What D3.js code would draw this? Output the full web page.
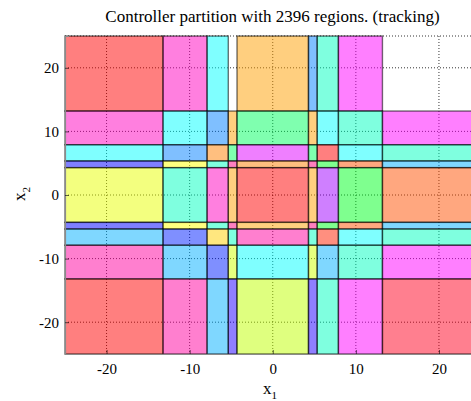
<!DOCTYPE html>
<html>
<head>
<meta charset="utf-8">
<script src="https://cdn.jsdelivr.net/npm/d3@7/dist/d3.min.js"></script>
<style>
  html, body { margin: 0; padding: 0; background: #fff; }
  svg { display: block; }
  text { font-family: "Liberation Serif", "Times New Roman", "DejaVu Serif", serif; fill: #000; }
</style>
</head>
<body>
<svg id="chart" width="471" height="401"></svg>
<script>
// Partition boundaries of the state space (same on both axes)
const xBreaks = [-25, -13.2, -7.9, -5.35, -4.3, 4.3, 5.35, 7.9, 13.2, 25];
const yBreaks = [-25, -13.2, -7.9, -5.35, -4.3, 4.3, 5.35, 7.9, 13.2, 25];

// Region colour keys, one row per x2 band from the top band down,
// one entry per x1 band from left to right (null = no region)
const regionRows = [
  ["red",    "pink",  "cyan",   null,     "lorange", "ltblue",  "aqua",     "magenta", null],
  ["pink",   "cyan",  "ltblue", "lorange","ltgreen", "lorange", "cyan",     "aqua",    "magenta"],
  ["cyan",   "ltblue","orange", "ltgreen","violet",  "ltgreen", "red",      "cyan",    "aqua"],
  ["blue",   "yellow","aqua",   "rose",   "orange",  "rose",    "green",    "salmon",  "sky"],
  ["lime",   "aqua",  "pink",   "lorange","red",     "lorange", "purple",   "green",   "salmon"],
  ["blue",   "yellow","aqua",   "rose",   "lorange", "rose",    "green",    "salmon",  "sky"],
  ["sky",    "blue2", "gold",   "aqua",   "pinkb",   "aqua",    "redorange","cyan",    "aqua"],
  ["pinkb",  "sky",   "blue2",  "chart",  "cyan",    "chart",   "sky",      "aqua",    "magenta"],
  ["red",    "pinkb", "sky",    "indigo", "yg",      "indigo",  "aqua",     "magenta", "crimson"]
];

const xTicks = [-20, -10, 0, 10, 20];
const yTicks = [-20, -10, 0, 10, 20];
const titleText = "Controller partition with 2396 regions. (tracking)";

// Saturated region colours, painted half transparent
const palette = {
  red: "#ff0000", pink: "#ff00c0", cyan: "#00ffff", lorange: "#ffa000",
  ltblue: "#0080ff", ltgreen: "#00ff60", magenta: "#ff00ff", aqua: "#00ffc0",
  orange: "#ff8000", violet: "#e000ff", blue: "#0000ff", yellow: "#ffff00",
  rose: "#ff0080", green: "#00ff20", salmon: "#ff5000", sky: "#00b0ff",
  lime: "#e8ff00", purple: "#a000ff", blue2: "#0020ff", gold: "#ffd000",
  pinkb: "#ff00a0", redorange: "#ff2000", chart: "#d0ff00", yg: "#c0ff00",
  indigo: "#2000ff", crimson: "#ff0020"
};

const svg = d3.select("#chart");
const x = d3.scaleLinear().domain([-25, 25]).range([65, 480.5]);
const y = d3.scaleLinear().domain([-25, 25]).range([354, 36]);

// Dotted grid underneath the translucent regions
const grid = svg.append("g")
  .attr("stroke", "#000").attr("stroke-opacity", 0.8).attr("stroke-width", 1).attr("stroke-dasharray", "1,2");
grid.selectAll("line.gx").data(xTicks).join("line").attr("class", "gx")
  .attr("x1", d => x(d)).attr("x2", d => x(d)).attr("y1", y(25)).attr("y2", y(-25));
grid.selectAll("line.gy").data(yTicks.concat([25])).join("line").attr("class", "gy")
  .attr("y1", d => y(d)).attr("y2", d => y(d)).attr("x1", x(-25)).attr("x2", x(25));

// Regions
const topDown = yBreaks.slice().reverse();
const cells = [];
regionRows.forEach((row, i) => {
  row.forEach((key, j) => {
    if (key) cells.push({ x0: xBreaks[j], x1: xBreaks[j + 1], yHi: topDown[i], yLo: topDown[i + 1], key });
  });
});
svg.append("g").selectAll("rect").data(cells).join("rect")
  .attr("x", d => x(d.x0))
  .attr("y", d => y(d.yHi))
  .attr("width", d => x(d.x1) - x(d.x0))
  .attr("height", d => y(d.yLo) - y(d.yHi))
  .attr("fill", d => palette[d.key])
  .attr("fill-opacity", 0.5)
  .attr("stroke", "#000")
  .attr("stroke-opacity", 0.55)
  .attr("stroke-width", 1.4);

// Axes
const xAxis = svg.append("g").attr("transform", `translate(0,${y(-25)})`)
  .call(d3.axisBottom(x).tickValues(xTicks).tickSize(-4).tickPadding(9).tickFormat(d3.format("d")));
const yAxis = svg.append("g").attr("transform", `translate(${x(-25)},0)`)
  .call(d3.axisLeft(y).tickValues(yTicks).tickSize(-4).tickPadding(6).tickFormat(d3.format("d")));
[xAxis, yAxis].forEach(a => {
  a.attr("font-family", null);
  a.select(".domain").attr("stroke", "#8a8a8a").attr("stroke-width", 1.2);
  a.selectAll(".tick line").attr("stroke", "#000").attr("stroke-opacity", 0.6);
  a.selectAll(".tick text").attr("font-size", 15).attr("fill", "#000");
});
xAxis.selectAll(".tick text").text(d => d < 0 ? "-" + Math.abs(d) : d);
yAxis.selectAll(".tick text").text(d => d < 0 ? "-" + Math.abs(d) : d);

// Title
svg.append("text").attr("x", 272.5).attr("y", 22).attr("text-anchor", "middle")
  .attr("font-size", 17).text(titleText);

// Axis labels
const xl = svg.append("text").attr("x", 270).attr("y", 394).attr("text-anchor", "middle").attr("font-size", 17);
xl.append("tspan").text("x");
xl.append("tspan").attr("dy", 5).attr("font-size", 11).text("1");

const yl = svg.append("text").attr("transform", "translate(25,194) rotate(-90)")
  .attr("text-anchor", "middle").attr("font-size", 17);
yl.append("tspan").text("x");
yl.append("tspan").attr("dy", 5).attr("font-size", 11).text("2");
</script>
</body>
</html>
